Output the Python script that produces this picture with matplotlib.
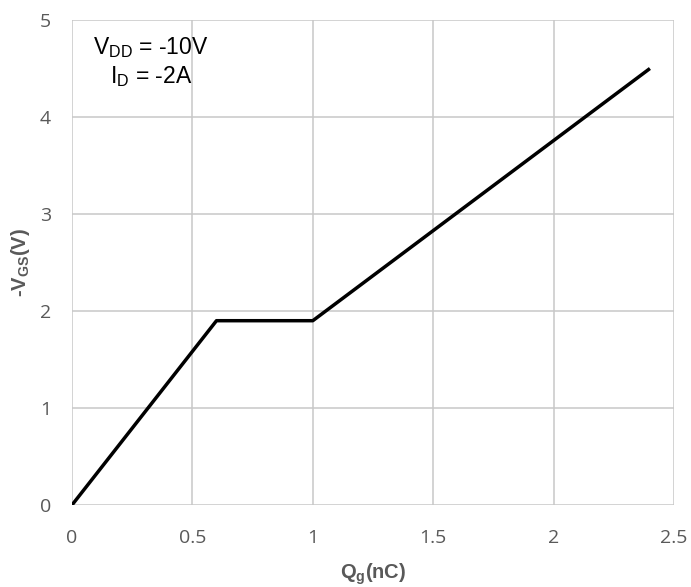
import matplotlib
matplotlib.use("Agg")
import matplotlib.pyplot as plt

qg = [0.0, 0.6, 1.0, 2.4]
vgs = [0.0, 1.9, 1.9, 4.5]
xticks = [0, 0.5, 1, 1.5, 2, 2.5]
xtick_labels = ["0", "0.5", "1", "1.5", "2", "2.5"]
yticks = [0, 1, 2, 3, 4, 5]
ytick_labels = ["0", "1", "2", "3", "4", "5"]

W, H = 691, 587
L, R, T, B = 72, 674, 20, 505
fig = plt.figure(figsize=(W/100, H/100), dpi=100)
ax = fig.add_axes([L/W, 1-B/H, (R-L)/W, (B-T)/H])

ax.plot(qg, vgs, color="black", lw=2.5, solid_capstyle="butt", zorder=3)
ax.set_xlim(0, 2.5)
ax.set_ylim(0, 5)
ax.set_xticks(xticks)
ax.set_xticklabels(xtick_labels)
ax.set_yticks(yticks)
ax.set_yticklabels(ytick_labels)
ax.grid(True, color="#c8c8c8", lw=1.1)
for s in ax.spines.values():
    s.set_visible(False)
ax.tick_params(axis="x", length=0, labelsize=14, labelcolor="#595959", pad=17)
ax.tick_params(axis="y", length=0, labelsize=14, labelcolor="#595959", pad=15)
for lab in ax.get_xticklabels() + ax.get_yticklabels():
    lab.set_family("Open Sans")
ax.set_axisbelow(True)

lab_font = dict(family="Liberation Sans", weight="bold", color="#595959", size=14.5)
ax.set_xlabel(r"Q$_\mathregular{g}$(nC)", labelpad=11, **lab_font)
ax.set_ylabel(r"-V$_\mathregular{GS}$(V)", labelpad=6, **lab_font)

ax.text(0.328, 4.65, r"V$_\mathregular{DD}$ = -10V", family="Liberation Sans", size=16.5,
        color="black", ha="center", va="baseline")
ax.text(0.328, 4.35, r"I$_\mathregular{D}$ = -2A", family="Liberation Sans", size=16.5,
        color="black", ha="center", va="baseline")

fig.savefig("out.png", dpi=100)
